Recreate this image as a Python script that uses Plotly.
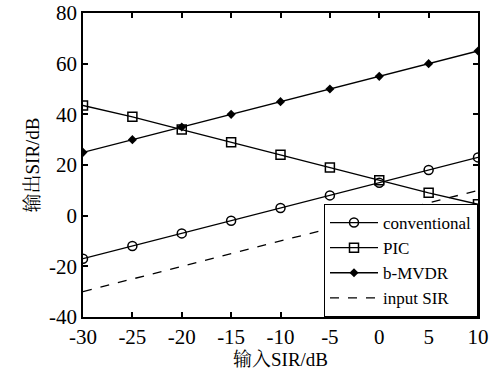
import plotly.graph_objects as go

x_sir = [-30, -25, -20, -15, -10, -5, 0, 5, 10]
conventional = [-17, -12, -7, -2, 3, 8, 13, 18, 23]
pic = [43.5, 39, 34, 29, 24, 19, 14, 9, 4.5]
bmvdr = [25, 30, 35, 40, 45, 50, 55, 60, 65]
input_x = [-30, 10]
input_sir = [-30, 10]

x_ticks = [-30, -25, -20, -15, -10, -5, 0, 5, 10]
x_ticktext = ["-30", "-25", "-20", "-15", "-10", "-5", "0", "5", "10"]
y_ticks = [-40, -20, 0, 20, 40, 60, 80]
y_ticktext = ["-40", "-20", "0", "20", "40", "60", "80"]

FONT = "Times New Roman, Liberation Serif, serif"
TFONT = "Times New Roman, Liberation Serif, Noto Serif CJK SC, Noto Sans CJK SC, serif"

fig = go.Figure()
fig.add_trace(go.Scatter(x=x_sir, y=conventional, mode="lines+markers", name="conventional",
                         line=dict(color="black", width=1.3),
                         marker=dict(symbol="circle-open", size=9, color="black", line=dict(width=1.5))))
fig.add_trace(go.Scatter(x=x_sir, y=pic, mode="lines+markers", name="PIC",
                         line=dict(color="black", width=1.3),
                         marker=dict(symbol="square-open", size=9, color="black", line=dict(width=1.5))))
fig.add_trace(go.Scatter(x=x_sir, y=bmvdr, mode="lines+markers", name="b-MVDR",
                         line=dict(color="black", width=1.3),
                         marker=dict(symbol="diamond", size=7, color="black")))
fig.add_trace(go.Scatter(x=input_x, y=input_sir, mode="lines", name="input SIR",
                         line=dict(color="black", width=1.3, dash="dash")))

axis_common = dict(showline=True, linecolor="black", linewidth=1.5, mirror="ticks",
                   ticks="inside", ticklen=5, tickcolor="black", tickwidth=1.5,
                   showgrid=False, zeroline=False, automargin=False,
                   tickfont=dict(family=FONT, size=21, color="black"))

fig.update_layout(
    width=496, height=378,
    margin=dict(l=83, r=18, t=13, b=61),
    plot_bgcolor="white", paper_bgcolor="white",
    font=dict(family=TFONT, color="black"),
    xaxis=dict(range=[-30, 10], tickvals=x_ticks, ticktext=x_ticktext,
               title=dict(text="输入SIR/dB", font=dict(family=TFONT, size=19), standoff=4),
               **axis_common),
    yaxis=dict(range=[-40, 80], tickvals=y_ticks, ticktext=y_ticktext,
               title=dict(text="输出SIR/dB", font=dict(family=TFONT, size=19), standoff=4),
               **axis_common),
    legend=dict(x=1, y=0, xanchor="right", yanchor="bottom",
                bgcolor="white", bordercolor="black", borderwidth=1,
                font=dict(family=FONT, size=17, color="black"),
                tracegroupgap=0, itemwidth=48),
    showlegend=True,
)

fig.write_html("out.html")
